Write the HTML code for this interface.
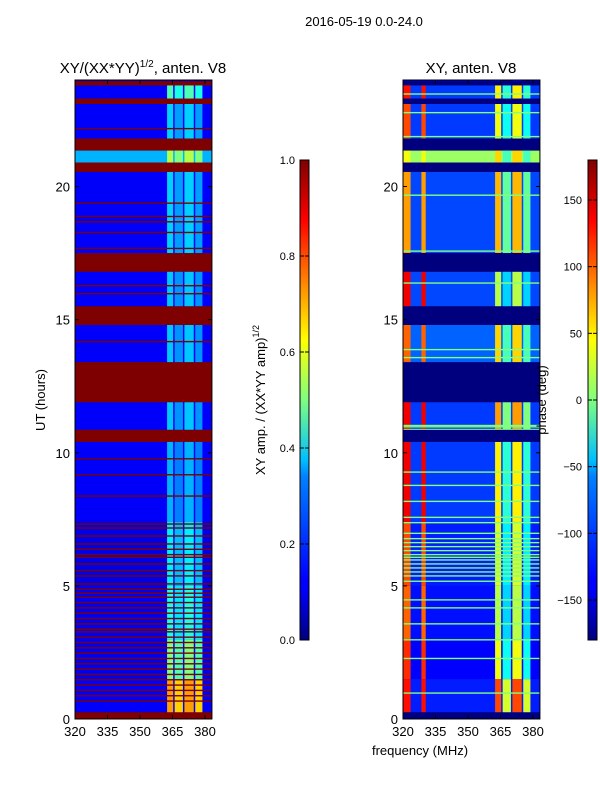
<!DOCTYPE html>
<html><head><meta charset="utf-8">
<style>
body{margin:0;background:#fff;}
svg{display:block;font-family:"Liberation Sans",sans-serif;}
</style></head>
<body>
<svg id="fig" width="600" height="800" viewBox="0 0 600 800">
<defs>
<linearGradient id="jet" x1="0" y1="1" x2="0" y2="0">
<stop offset="0" stop-color="#00007f"/><stop offset="0.11" stop-color="#0000ff"/><stop offset="0.125" stop-color="#0000ff"/>
<stop offset="0.34" stop-color="#0080ff"/><stop offset="0.375" stop-color="#00bfff"/><stop offset="0.5" stop-color="#7fff7f"/>
<stop offset="0.625" stop-color="#ffff00"/><stop offset="0.75" stop-color="#ff8000"/><stop offset="0.875" stop-color="#ff0000"/><stop offset="1" stop-color="#7f0000"/>
</linearGradient>
</defs>
<text x="364" y="26" font-size="13" text-anchor="middle">2016-05-19 0.0-24.0</text>
<text x="143" y="73" font-size="15" text-anchor="middle">XY/(XX*YY)<tspan font-size="10" dy="-6">1/2</tspan><tspan dy="6">, anten. V8</tspan></text>
<text x="471" y="73" font-size="15" text-anchor="middle">XY, anten. V8</text>
<text transform="translate(45,400) rotate(-90)" font-size="13" text-anchor="middle">UT (hours)</text>
<text x="420" y="755" font-size="13" text-anchor="middle">frequency (MHz)</text>
<g id="left"></g>
<g id="right"></g>
<g id="axes"></g>
<rect x="300" y="160" width="9" height="480" fill="url(#jet)" stroke="#000" stroke-width="1"/>
<rect x="588" y="160" width="9" height="480" fill="url(#jet)" stroke="#000" stroke-width="1"/>
<text transform="translate(265,400) rotate(-90)" font-size="13" text-anchor="middle">XY amp. / (XX*YY amp)<tspan font-size="9" dy="-6">1/2</tspan></text>
<text transform="translate(546,400) rotate(-90)" font-size="13" text-anchor="middle">phase (deg)</text>
<g id="cb"></g>
</svg>
<script>
const flagStart=[0,10.41,11.9,14.8,16.8,20.55,21.35,23.1,23.8];
const flagEnd=[0.25,10.86,13.4,15.5,17.5,20.9,21.8,23.3,23.95];
const bandStart=[0.25,1.5,3.0,5.0,7.4,10.86,13.4,15.5,17.5,20.9,21.8,23.3,23.95];
const bandEnd=[1.5,3.0,5.0,7.4,10.41,11.9,14.8,16.8,20.55,21.35,23.1,23.8,24];
const ampLow=[0.12,0.11,0.11,0.1,0.12,0.12,0.12,0.12,0.12,0.3,0.12,0.12,0.08];
const ampHigh=[0.72,0.5,0.4,0.36,0.3,0.32,0.32,0.32,0.33,0.55,0.33,0.45,0.1];
const phStripe=[130,120,100,110,140,140,100,140,80,40,110,130,-150];
const phBase=[-125,-135,-130,-125,-115,-115,-100,-110,-110,10,-115,-115,-150];
const phRight=[90,20,0,10,30,60,40,0,50,40,20,30,-150];
const redLines=[0.7,0.9,1.1,1.3,1.5,1.7,1.9,2.1,2.3,2.5,2.7,2.9,3.1,3.3,3.4,3.6,3.8,4.0,4.2,4.4,4.6,4.75,4.9,5.1,5.4,5.6,5.85,6.1,6.2,6.4,6.6,6.9,7.2,7.35,8.4,9.2,9.8,14.2,16.0,16.3,17.7,18.3,18.7,18.9,19.4,22.2];
const greenLines=[0.1,1.0,2.3,3.0,3.6,4.2,4.5,5.2,5.4,5.55,5.7,5.85,6.0,6.1,6.2,6.35,6.5,6.65,6.8,7.0,7.4,7.6,8.2,8.8,9.3,10.9,11.0,11.05,13.6,13.9,16.4,16.9,17.6,19.7,20.7,21.9,22.8,23.5];
const hiBlocksStart=[362.5,366,370.5,375.5];
const hiBlocksEnd=[366,370.5,375.5,379.5];
const stripeStart=[320,328.5];
const stripeEnd=[323.5,330.5];
const yTicks=[0,5,10,15,20];
const xTicks=[320,335,350,365,380];
const ampTicks=[0,0.2,0.4,0.6,0.8,1.0];
const phTicks=[-150,-100,-50,0,50,100,150];

const NS="http://www.w3.org/2000/svg";
function jet(t){t=Math.max(0,Math.min(1,t));const c=v=>Math.round(255*Math.max(0,Math.min(1,v)));
return `rgb(${c(1.5-Math.abs(4*t-3))},${c(1.5-Math.abs(4*t-2))},${c(1.5-Math.abs(4*t-1))})`;}
const ph=p=>jet((p+180)/360);
const Y=h=>719-h*(639/24);
const XL=f=>75+(f-320)*(130/60);
const XR=f=>403+(f-320)*(130/60);
function rect(g,x,y,w,h,fill,name){const r=document.createElementNS(NS,'rect');
r.setAttribute('x',x);r.setAttribute('y',y);r.setAttribute('width',w);r.setAttribute('height',Math.max(h,0.8));r.setAttribute('fill',fill);


g.appendChild(r);return r;}
function txt(g,x,y,s,anchor,name){const t=document.createElementNS(NS,'text');t.setAttribute('x',x);t.setAttribute('y',y);t.setAttribute('font-size','13');t.setAttribute('text-anchor',anchor);t.textContent=s;


g.appendChild(t);}
function line(g,x1,y1,x2,y2,name){const l=document.createElementNS(NS,'line');l.setAttribute('x1',x1);l.setAttribute('y1',y1);l.setAttribute('x2',x2);l.setAttribute('y2',y2);l.setAttribute('stroke','#000');l.setAttribute('stroke-width','1');


g.appendChild(l);}
const L=document.getElementById('left'),R=document.getElementById('right');
const fMax=383.2;
rect(L,XL(320),Y(24),XL(fMax)-XL(320),Y(0)-Y(24),'#7f0000','left-background');
rect(R,XR(320),Y(24),XR(fMax)-XR(320),Y(0)-Y(24),'#00007f','right-background');
for(let i=0;i<bandStart.length;i++){
 const y=Y(bandEnd[i]),h=Y(bandStart[i])-Y(bandEnd[i]);
 rect(L,XL(320),y,XL(fMax)-XL(320),h,jet(ampLow[i]),'left-band');
 rect(R,XR(320),y,XR(fMax)-XR(320),h,ph(phBase[i]),'right-band');
 for(let k=0;k<hiBlocksStart.length;k++){
  rect(L,XL(hiBlocksStart[k]),y,XL(hiBlocksEnd[k])-XL(hiBlocksStart[k])-1.5,h,jet(ampHigh[i]-(k%2?0.05:0)),'left-hi-block');
  rect(R,XR(hiBlocksStart[k]),y,XR(hiBlocksEnd[k])-XR(hiBlocksStart[k])-1.5,h,ph(phRight[i]+(k%2?-60:20)),'right-hi-block');
 }
 for(let k=0;k<stripeStart.length;k++){
  rect(R,XR(stripeStart[k]),y,XR(stripeEnd[k])-XR(stripeStart[k]),h,ph(phStripe[i]),'right-stripe');
 }
}
for(const h of redLines) rect(L,XL(320),Y(h),XL(fMax)-XL(320),1.4,'#7f0000','left-flag-line');
for(const h of greenLines) rect(R,XR(320),Y(h),XR(fMax)-XR(320),1.4,'#80ff80','right-green-line');
for(let i=0;i<flagStart.length;i++){
 rect(L,XL(320),Y(flagEnd[i]),XL(fMax)-XL(320),Y(flagStart[i])-Y(flagEnd[i]),'#7f0000','left-flagged');
 rect(R,XR(320),Y(flagEnd[i]),XR(fMax)-XR(320),Y(flagStart[i])-Y(flagEnd[i]),'#00007f','right-flagged');
}
const A=document.getElementById('axes');
[[XL,75,'left'],[XR,403,'right']].forEach(([X,x0,nm])=>{
 const w=XL(fMax)-XL(320);
 const fr=document.createElementNS(NS,'rect');fr.setAttribute('x',x0);fr.setAttribute('y',Y(24));fr.setAttribute('width',w);fr.setAttribute('height',Y(0)-Y(24));fr.setAttribute('fill','none');fr.setAttribute('stroke','#000');
 
 
 A.appendChild(fr);
 for(const t of yTicks){const y=Y(t);line(A,x0,y,x0+4,y,nm+'-y-tick');line(A,x0+w,y,x0+w-4,y,nm+'-y-tick');txt(A,x0-5,y+5,String(t),'end',nm+'-y-tick-label');}
 for(const t of xTicks){const x=X(t);line(A,x,Y(0),x,Y(0)-4,nm+'-x-tick');line(A,x,Y(24),x,Y(24)+4,nm+'-x-tick');txt(A,x,736,String(t),'middle',nm+'-x-tick-label');}
});
const C=document.getElementById('cb');
for(const t of ampTicks){const y=640-t*480;line(C,300,y,304,y,'amp-tick');line(C,309,y,305,y,'amp-tick');txt(C,295,y+4,t.toFixed(1),'end','amp-tick-label');}
for(const t of phTicks){const y=640-(t+180)/360*480;line(C,588,y,592,y,'phase-tick');line(C,597,y,593,y,'phase-tick');txt(C,582,y+4,t<0?'\u2212'+(-t):String(t),'end','phase-tick-label');}
C.querySelectorAll('text').forEach(t=>t.setAttribute('font-size','11'));
</script>
</body></html>
